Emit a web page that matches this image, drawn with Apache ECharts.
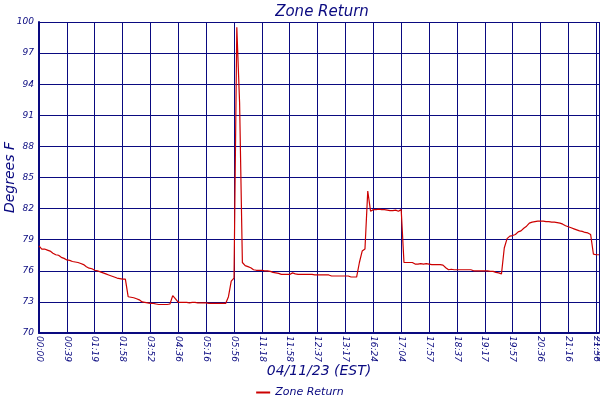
<!DOCTYPE html>
<html>
<head>
<meta charset="utf-8">
<script src="https://cdn.jsdelivr.net/npm/echarts@6/dist/echarts.min.js"></script>
<style>html,body{margin:0;padding:0;background:#fff;}#c{width:600px;height:400px;}</style>
</head>
<body>
<div id="c"></div>
<script>
// Tick labels along the time axis (one every 10 samples, plus the final sample)
const tickLabels = ["00:00","00:39","01:19","01:58","03:52","04:36","05:16","05:56","11:18","11:58",
  "12:37","13:17","16:24","17:04","17:57","18:37","19:17","19:57","20:36","21:16","21:56","21:59"];
const samplesPerTick = 10;

// Zone Return temperature (Degrees F), one value per sample
const zoneReturn = [
  78.4, 78.1, 78.1, 78.0, 77.9, 77.7, 77.55, 77.5, 77.3, 77.2,
  77.05, 77.0, 76.9, 76.85, 76.8, 76.7, 76.6, 76.4, 76.25, 76.2,
  76.05, 76.0, 75.9, 75.8, 75.7, 75.6, 75.5, 75.4, 75.3, 75.25,
  75.2, 75.2, 73.5, 73.45, 73.4, 73.3, 73.2, 73.0, 72.95, 72.9,
  72.85, 72.85, 72.8, 72.75, 72.75, 72.75, 72.75, 72.8, 73.6, 73.3,
  72.95, 72.95, 72.95, 72.95, 72.9, 72.95, 72.95, 72.9, 72.9, 72.9,
  72.9, 72.85, 72.85, 72.85, 72.85, 72.85, 72.85, 72.85, 73.5, 75.0,
  75.3, 99.5, 92.2, 76.8, 76.5, 76.4, 76.3, 76.1, 76.05, 76.05,
  76.05, 76.0, 76.0, 75.95, 75.85, 75.8, 75.75, 75.65, 75.65, 75.65,
  75.65, 75.8, 75.7, 75.65, 75.65, 75.65, 75.65, 75.65, 75.65, 75.6,
  75.6, 75.6, 75.6, 75.6, 75.6, 75.5, 75.5, 75.5, 75.5, 75.5,
  75.5, 75.5, 75.4, 75.4, 75.4, 76.8, 77.9, 78.1, 83.7, 81.75,
  81.9, 81.9, 81.95, 81.9, 81.9, 81.85, 81.8, 81.8, 81.85, 81.75,
  81.9, 76.8, 76.8, 76.8, 76.8, 76.65, 76.65, 76.7, 76.65, 76.7,
  76.65, 76.6, 76.6, 76.6, 76.6, 76.55, 76.3, 76.1, 76.15, 76.1,
  76.1, 76.1, 76.1, 76.1, 76.1, 76.1, 76.0, 76.0, 76.0, 76.0,
  76.0, 76.0, 75.95, 75.95, 75.85, 75.8, 75.7, 78.2, 79.1, 79.35,
  79.4, 79.5, 79.75, 79.85, 80.1, 80.3, 80.6, 80.7, 80.75, 80.8,
  80.8, 80.8, 80.75, 80.75, 80.7, 80.7, 80.65, 80.6, 80.5, 80.35,
  80.25, 80.15, 80.05, 79.95, 79.85, 79.8, 79.7, 79.65, 79.5, 77.6,
  77.55, 77.55
];

const yMin = 70, yMax = 100, yStep = 3;

// Build category list: label text at tick samples, empty elsewhere
const categories = zoneReturn.map(function (v, i) {
  if (i === zoneReturn.length - 1) return tickLabels[tickLabels.length - 1];
  if (i % samplesPerTick === 0 && i / samplesPerTick < tickLabels.length - 1) return tickLabels[i / samplesPerTick];
  return '';
});

const navy = '#0a0a80';
const fontFam = 'DejaVu Sans';
const chart = echarts.init(document.getElementById('c'));
chart.setOption({
  animation: false,
  backgroundColor: '#ffffff',
  title: {
    text: 'Zone Return',
    left: 317, top: 0, textAlign: 'center',
    textStyle: { color: navy, fontFamily: fontFam, fontStyle: 'italic', fontWeight: 'normal', fontSize: 15 }
  },
  legend: {
    top: 382, left: 'center',
    itemWidth: 14, itemHeight: 2, itemGap: 4,
    icon: 'rect',
    textStyle: { color: navy, fontFamily: fontFam, fontStyle: 'italic', fontSize: 11 },
    data: ['Zone Return']
  },
  grid: { left: 39, right: 1, top: 22, bottom: 67, containLabel: false, outerBoundsMode: 'none' },
  xAxis: {
    type: 'category',
    data: categories,
    boundaryGap: false,
    name: '04/11/23 (EST)',
    nameLocation: 'middle',
    nameGap: 31,
    nameMoveOverlap: false,
    nameTextStyle: { color: navy, fontFamily: fontFam, fontStyle: 'italic', fontSize: 14 },
    axisLine: { show: true, lineStyle: { color: navy, width: 2 } },
    axisTick: { show: false },
    axisLabel: { interval: 0, rotate: -90, color: navy, fontFamily: fontFam, fontStyle: 'italic', fontSize: 9, margin: 3 },
    splitLine: {
      show: true,
      interval: function (i) { return categories[i] !== ''; },
      lineStyle: { color: navy, width: 1 }
    }
  },
  yAxis: {
    type: 'value',
    min: yMin, max: yMax, interval: yStep,
    name: 'Degrees F',
    nameLocation: 'middle',
    nameGap: 22,
    nameMoveOverlap: false,
    nameRotate: 90,
    nameTextStyle: { color: navy, fontFamily: fontFam, fontStyle: 'italic', fontSize: 14 },
    axisLine: { show: true, lineStyle: { color: navy, width: 2 } },
    axisTick: { show: false },
    axisLabel: { color: navy, fontFamily: fontFam, fontStyle: 'italic', fontSize: 9, margin: 5 },
    splitLine: { show: true, lineStyle: { color: navy, width: 1 } }
  },
  series: [{
    name: 'Zone Return',
    type: 'line',
    data: zoneReturn,
    symbol: 'none',
    lineStyle: { color: '#cc0000', width: 1.2 },
    itemStyle: { color: '#cc0000' }
  }]
});
</script>
</body>
</html>
